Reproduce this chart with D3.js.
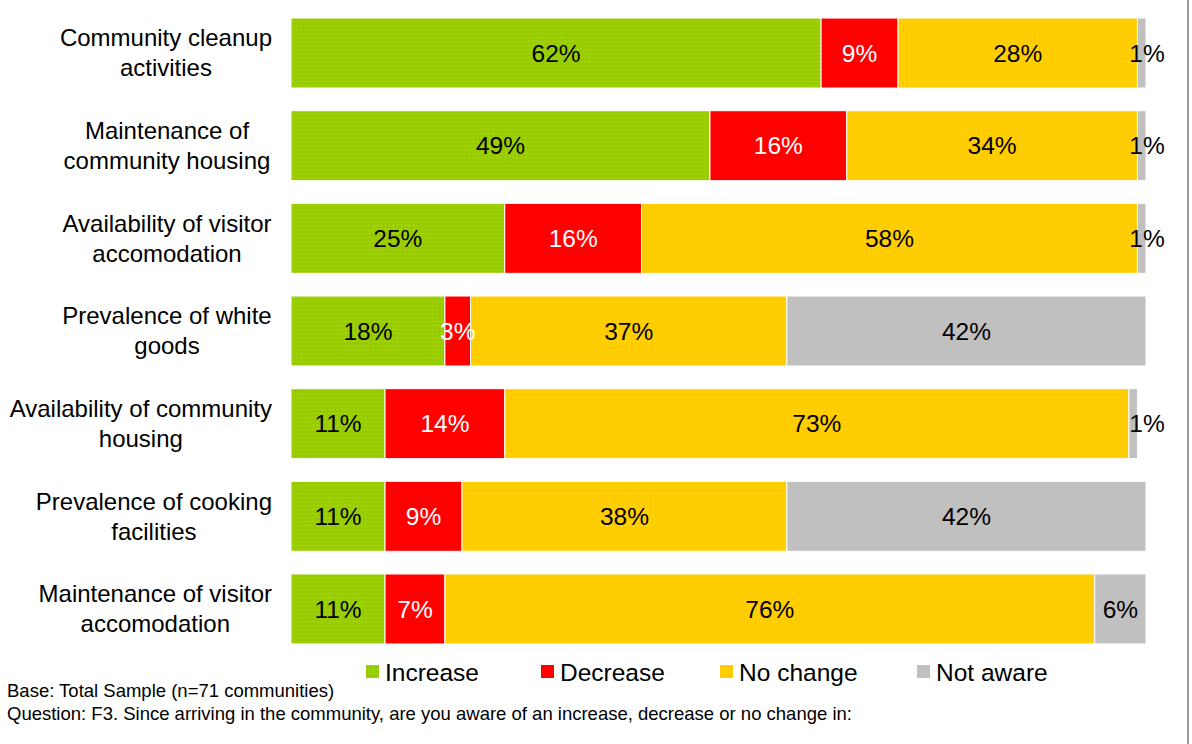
<!DOCTYPE html>
<html>
<head>
<meta charset="utf-8">
<script src="https://cdn.jsdelivr.net/npm/d3@7"></script>
<style>
  html, body { margin: 0; padding: 0; background: #fff; }
  svg { display: block; font-family: "Liberation Sans", Arial, sans-serif; }
</style>
</head>
<body>
<svg id="chart" width="1192" height="744"></svg>
<script>
const categories = [
  ["Community cleanup", "activities"],
  ["Maintenance of", "community housing"],
  ["Availability of visitor", "accomodation"],
  ["Prevalence of white", "goods"],
  ["Availability of community", "housing"],
  ["Prevalence of cooking", "facilities"],
  ["Maintenance of visitor", "accomodation"]
];
const seriesNames = ["Increase", "Decrease", "No change", "Not aware"];
const increase  = [62, 49, 25, 18, 11, 11, 11];
const decrease  = [9, 16, 16, 3, 14, 9, 7];
const noChange  = [28, 34, 58, 37, 73, 38, 76];
const notAware  = [1, 1, 1, 42, 1, 42, 6];
const colors = ["#99CC00", "#FF0000", "#FFCC00", "#C0C0C0"];
const labelColors = ["#000", "#fff", "#000", "#000"];
const footnotes = [
  "Base: Total Sample (n=71 communities)",
  "Question: F3. Since arriving in the community, are you aware of an increase, decrease or no change in:"
];

const seriesValues = [increase, decrease, noChange, notAware];
const rows = categories.map((c, i) => {
  const r = { idx: i };
  seriesNames.forEach((s, k) => r[s] = seriesValues[k][i]);
  return r;
});

const svg = d3.select("#chart");
const defs = svg.append("defs");
[["pGreen", colors[0], "#b8dd4d"], ["pYellow", colors[2], "#ffdc55"]].forEach(([id, base, dot]) => {
  const p = defs.append("pattern").attr("id", id).attr("patternUnits", "userSpaceOnUse")
    .attr("width", 4).attr("height", 4);
  p.append("rect").attr("width", 4).attr("height", 4).attr("fill", base);
  p.append("rect").attr("x", 1).attr("y", 1).attr("width", 1).attr("height", 1).attr("fill", dot);
});
const fills = ["url(#pGreen)", colors[1], "url(#pYellow)", colors[3]];

const x = d3.scaleLinear().domain([0, 100]).range([291, 1146]);
const y = d3.scaleBand().domain(d3.range(categories.length))
  .range([6.7, 655.3]).paddingInner(0.245).paddingOuter(0.1225);

const stacked = d3.stack().keys(seriesNames)(rows);

const g = svg.append("g");
stacked.forEach((layer, k) => {
  g.append("g").selectAll("rect").data(layer).join("rect")
    .attr("x", d => x(d[0]))
    .attr("y", (d, i) => y(i))
    .attr("width", d => x(d[1]) - x(d[0]))
    .attr("height", y.bandwidth())
    .attr("fill", fills[k])
    .attr("stroke", "#fff")
    .attr("stroke-width", 1);
});
stacked.forEach((layer, k) => {
  g.append("g").selectAll("text").data(layer).join("text")
    .attr("x", d => {
      const v = d[1] - d[0];
      return v < 2 ? x(100) + 1 : (x(d[0]) + x(d[1])) / 2;
    })
    .attr("y", (d, i) => y(i) + y.bandwidth() / 2)
    .attr("dy", "0.35em")
    .attr("text-anchor", "middle")
    .attr("font-size", 24.5)
    .attr("fill", labelColors[k])
    .text(d => (d[1] - d[0]) + "%");
});

// category labels (centered, shifted left if too wide)
const cl = svg.append("g");
const labelCenter = 167, labelRight = 272;
categories.forEach((lines, i) => {
  const t = cl.append("text")
    .attr("y", y(i) + y.bandwidth() / 2)
    .attr("text-anchor", "middle")
    .attr("font-size", 24)
    .attr("fill", "#000");
  const spans = lines.map((ln, j) => t.append("tspan")
      .attr("x", labelCenter)
      .attr("dy", j === 0 ? "-0.28em" : "1.25em")
      .text(ln));
  const maxW = d3.max(spans, s => s.node().getComputedTextLength());
  const cx = Math.min(labelCenter, labelRight - maxW / 2);
  spans.forEach(s => s.attr("x", cx));
});

// legend
const legendX = [366, 541, 720, 917];
const lgd = svg.append("g");
seriesNames.forEach((s, k) => {
  lgd.append("rect").attr("x", legendX[k]).attr("y", 665).attr("width", 13).attr("height", 13)
    .attr("fill", fills[k]);
  lgd.append("text").attr("x", legendX[k] + 19).attr("y", 672).attr("dy", "0.35em")
    .attr("font-size", 24.5).attr("fill", "#000").text(s);
});

// footnotes
footnotes.forEach((f, i) => {
  svg.append("text").attr("x", 7).attr("y", 697 + i * 23)
    .attr("font-size", 18.5).attr("fill", "#000").text(f);
});

// right border line
svg.append("line").attr("x1", 1188).attr("x2", 1188).attr("y1", 0).attr("y2", 744)
  .attr("stroke", "#999").attr("stroke-width", 2);
</script>
</body>
</html>
